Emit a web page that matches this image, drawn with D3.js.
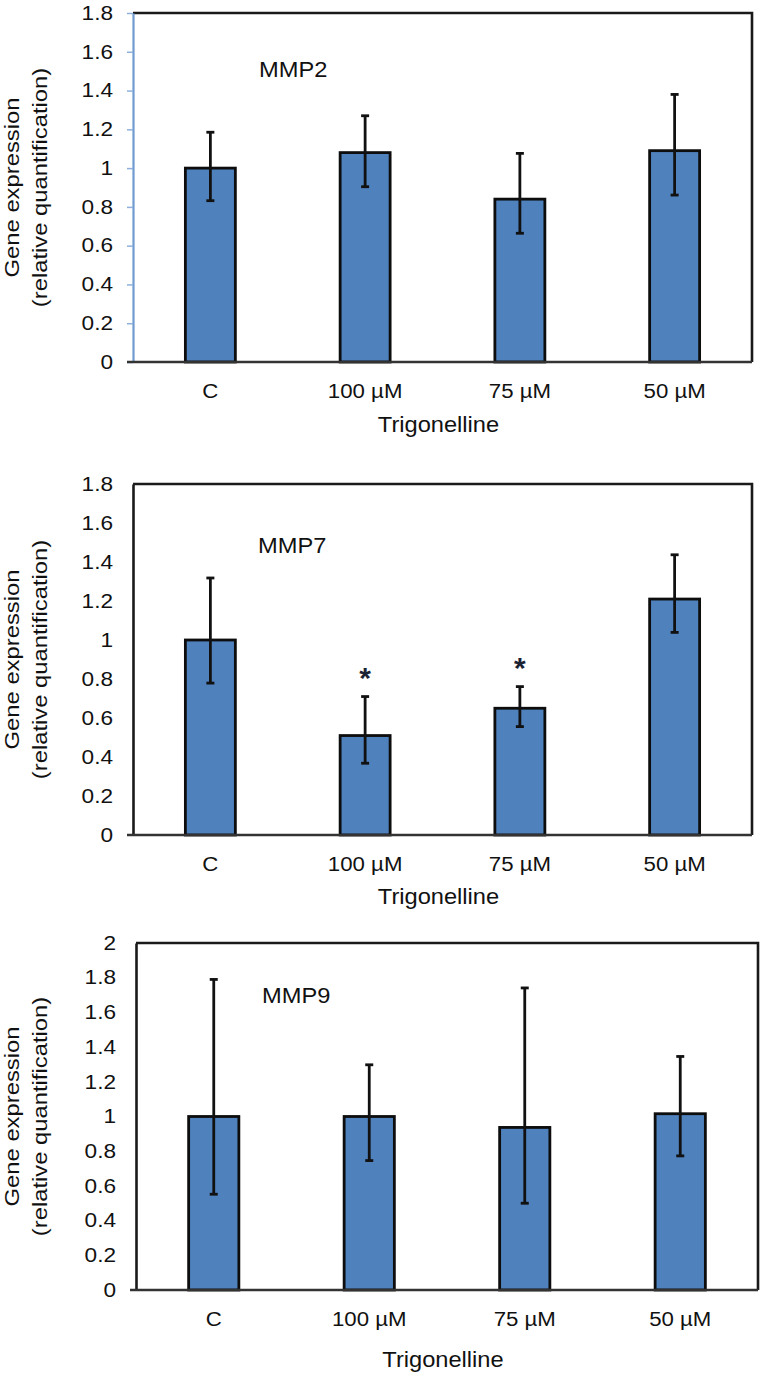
<!DOCTYPE html>
<html>
<head>
<meta charset="utf-8">
<script src="https://cdn.jsdelivr.net/npm/d3@7"></script>
<style>
  html, body { margin: 0; padding: 0; background: #fff; }
  svg { display: block; font-family: "Liberation Sans", Arial, Helvetica, sans-serif; }
</style>
</head>
<body>
<svg id="chart" width="765" height="1377"></svg>
<script>
// ---- data ----
const categories = ["C", "100 µM", "75 µM", "50 µM"];

const mmp2Values = [1.00, 1.08, 0.84, 1.09];
const mmp2Upper  = [1.185, 1.27, 1.076, 1.38];
const mmp2Lower  = [0.832, 0.904, 0.664, 0.861];

const mmp7Values = [1.00, 0.51, 0.65, 1.21];
const mmp7Upper  = [1.318, 0.71, 0.761, 1.437];
const mmp7Lower  = [0.779, 0.368, 0.556, 1.039];
const mmp7Significant = [false, true, true, false];

const mmp9Values = [1.00, 1.00, 0.937, 1.016];
const mmp9Upper  = [1.79, 1.298, 1.741, 1.346];
const mmp9Lower  = [0.552, 0.746, 0.50, 0.773];

const yTicks18 = [0, 0.2, 0.4, 0.6, 0.8, 1, 1.2, 1.4, 1.6, 1.8];
const yTicks20 = [0, 0.2, 0.4, 0.6, 0.8, 1, 1.2, 1.4, 1.6, 1.8, 2];

const xTitle = "Trigonelline";
const yTitle1 = "Gene expression";
const yTitle2 = "(relative quantification)";

// ---- layout ----
const panels = [
  { name: "MMP2", values: mmp2Values, upper: mmp2Upper, lower: mmp2Lower, sig: null,
    ticks: yTicks18, max: 1.8, l: 133, r: 752, t: 13, b: 362, blueAxis: true,
    nameX: 259, nameY: 77, titleY: 432 },
  { name: "MMP7", values: mmp7Values, upper: mmp7Upper, lower: mmp7Lower, sig: mmp7Significant,
    ticks: yTicks18, max: 1.8, l: 133, r: 752, t: 484, b: 835, blueAxis: false,
    nameX: 258, nameY: 553, titleY: 904 },
  { name: "MMP9", values: mmp9Values, upper: mmp9Upper, lower: mmp9Lower, sig: null,
    ticks: yTicks20, max: 2.0, l: 136, r: 758, t: 943, b: 1290, blueAxis: false,
    nameX: 262, nameY: 1003, titleY: 1367 }
];

const svg = d3.select("#chart");
const textColor = "#111";
const barFill = "#4f81bd";
const fmt = d => d === 0 ? "0" : String(+d.toFixed(1));

panels.forEach(p => {
  const g = svg.append("g");
  const x = d3.scaleBand().domain(categories).range([p.l, p.r])
    .paddingInner(0.677).paddingOuter(0.677 / 2);
  const y = d3.scaleLinear().domain([0, p.max]).range([p.b, p.t]);

  // frame (top, right)
  g.append("path")
    .attr("d", `M${p.l},${p.t}H${p.r}V${p.b}`)
    .attr("fill", "none").attr("stroke", "#1a1a1a").attr("stroke-width", 2.6);

  // bars
  g.selectAll("rect.bar").data(categories).join("rect")
    .attr("class", "bar")
    .attr("x", d => x(d))
    .attr("y", (d, i) => y(p.values[i]))
    .attr("width", x.bandwidth())
    .attr("height", (d, i) => y(0) - y(p.values[i]))
    .attr("fill", barFill)
    .attr("stroke", "#0d0d0d").attr("stroke-width", 2.8);

  // error bars
  const cap = 4;
  const eg = g.selectAll("g.err").data(categories).join("g").attr("class", "err");
  eg.append("line")
    .attr("x1", d => x(d) + x.bandwidth() / 2).attr("x2", d => x(d) + x.bandwidth() / 2)
    .attr("y1", (d, i) => y(p.upper[i])).attr("y2", (d, i) => y(p.lower[i]))
    .attr("stroke", "#111").attr("stroke-width", 2.8);
  eg.append("line")
    .attr("x1", d => x(d) + x.bandwidth() / 2 - cap).attr("x2", d => x(d) + x.bandwidth() / 2 + cap)
    .attr("y1", (d, i) => y(p.upper[i])).attr("y2", (d, i) => y(p.upper[i]))
    .attr("stroke", "#111").attr("stroke-width", 2.8);
  eg.append("line")
    .attr("x1", d => x(d) + x.bandwidth() / 2 - cap).attr("x2", d => x(d) + x.bandwidth() / 2 + cap)
    .attr("y1", (d, i) => y(p.lower[i])).attr("y2", (d, i) => y(p.lower[i]))
    .attr("stroke", "#111").attr("stroke-width", 2.8);

  // significance stars
  if (p.sig) {
    g.selectAll("text.star").data(categories.filter((d, i) => p.sig[i])).join("text")
      .attr("class", "star")
      .attr("x", d => x(d) + x.bandwidth() / 2)
      .attr("y", d => y(p.upper[categories.indexOf(d)]) - 9)
      .attr("text-anchor", "middle")
      .attr("font-size", 30).attr("font-weight", "bold")
      .attr("fill", "#1b2233")
      .text("*");
  }

  // y axis
  const yAxis = d3.axisLeft(y).tickValues(p.ticks).tickFormat(fmt)
    .tickSize(p.blueAxis ? 6 : 0).tickSizeOuter(0);
  const ya = g.append("g").attr("transform", `translate(${p.l},0)`).call(yAxis);
  ya.select(".domain").attr("stroke", p.blueAxis ? "#6f9bd1" : "#1a1a1a").attr("stroke-width", p.blueAxis ? 2.2 : 2.6);
  ya.selectAll(".tick line").attr("stroke", "#8fb0dc").attr("stroke-width", 1.5);
  ya.selectAll(".tick text")
    .attr("x", -20 / 1.16)
    .attr("transform", "scale(1.16,1)")
    .attr("font-size", 19.5).attr("fill", textColor)
    .attr("font-family", "Liberation Sans, Arial, sans-serif");

  // x axis
  const xAxis = d3.axisBottom(x).tickSize(0).tickSizeOuter(0);
  const xa = g.append("g").attr("transform", `translate(0,${p.b})`).call(xAxis);
  xa.select(".domain").attr("d", `M${p.l - 6},0H${p.r}`).attr("stroke", "#333").attr("stroke-width", 2.4);
  xa.selectAll(".tick text")
    .attr("y", 36).attr("dy", 0)
    .attr("transform", "scale(1.14,1)")
    .attr("font-size", 19.5).attr("fill", textColor)
    .attr("font-family", "Liberation Sans, Arial, sans-serif");

  // panel name
  g.append("text")
    .attr("transform", `translate(${p.nameX},${p.nameY}) scale(1.1,1)`)
    .attr("font-size", 21.5).attr("fill", textColor)
    .text(p.name);

  // x title
  g.append("text")
    .attr("transform", `translate(${(p.l + p.r) / 2 - 4},${p.titleY}) scale(1.1,1)`)
    .attr("text-anchor", "middle")
    .attr("font-size", 21.5).attr("fill", textColor)
    .text(xTitle);

  // y titles
  const cy = (p.t + p.b) / 2;
  g.append("text")
    .attr("transform", `translate(19,${cy}) rotate(-90) scale(1.22,1)`)
    .attr("text-anchor", "middle")
    .attr("font-size", 19.5).attr("fill", textColor)
    .text(yTitle1);
  g.append("text")
    .attr("transform", `translate(47,${cy}) rotate(-90) scale(1.22,1)`)
    .attr("text-anchor", "middle")
    .attr("font-size", 19.5).attr("fill", textColor)
    .text(yTitle2);
});
</script>
</body>
</html>
